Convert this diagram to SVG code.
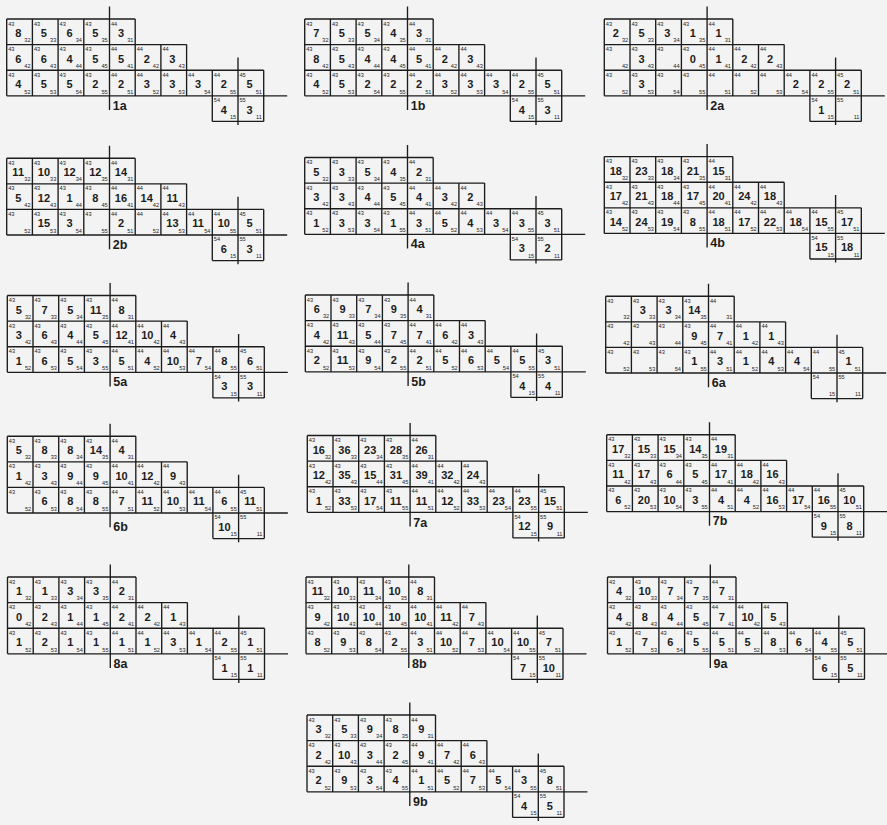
<svg xmlns="http://www.w3.org/2000/svg" width="887" height="825" viewBox="0 0 887 825">
<style>
text{font-family:"Liberation Sans",Arial,sans-serif;fill:#1c1c1c}
.s{font-size:5.6px}
.e{font-size:5.6px;text-anchor:end}
.m{font-size:11px;font-weight:bold;text-anchor:middle}
.l{font-size:12.5px;font-weight:bold}
.g{fill:none;stroke:#1c1c1c;stroke-width:1.35}
</style>
<defs>
<path id="grid" class="g" d="M0 0H128.5M0 25.6H179.9M0 51.2H257M0 76.8H280.5M205.6 102.4H257M0 0V76.8M25.7 0V76.8M51.4 0V76.8M77.1 0V76.8M102.8 -12.5V91M128.5 0V76.8M154.2 25.6V76.8M179.9 25.6V76.8M205.6 51.2V102.4M231.3 38.5V106M257 51.2V102.4"/>
<g id="idx">
<text class="s" y="6.5"><tspan x="1.5">43</tspan><tspan x="27.2">43</tspan><tspan x="52.9">43</tspan><tspan x="78.6">43</tspan><tspan x="104.3">44</tspan></text>
<text class="s" y="32.1"><tspan x="1.5">43</tspan><tspan x="27.2">43</tspan><tspan x="52.9">43</tspan><tspan x="78.6">43</tspan><tspan x="104.3">44</tspan><tspan x="130">44</tspan><tspan x="155.7">44</tspan></text>
<text class="s" y="57.7"><tspan x="1.5">43</tspan><tspan x="27.2">43</tspan><tspan x="52.9">43</tspan><tspan x="78.6">43</tspan><tspan x="104.3">44</tspan><tspan x="130">44</tspan><tspan x="155.7">44</tspan><tspan x="181.4">44</tspan><tspan x="207.1">44</tspan><tspan x="232.8">45</tspan></text>
<text class="s" y="83.3"><tspan x="207.1">54</tspan><tspan x="232.8">55</tspan></text>
<text class="e" y="23.3"><tspan x="23.9">32</tspan><tspan x="49.6">33</tspan><tspan x="75.3">34</tspan><tspan x="101">35</tspan><tspan x="126.7">31</tspan></text>
<text class="e" y="48.9"><tspan x="23.9">42</tspan><tspan x="49.6">43</tspan><tspan x="75.3">44</tspan><tspan x="101">45</tspan><tspan x="126.7">41</tspan><tspan x="152.4">42</tspan><tspan x="178.1">43</tspan></text>
<text class="e" y="74.5"><tspan x="23.9">52</tspan><tspan x="49.6">53</tspan><tspan x="75.3">54</tspan><tspan x="101">55</tspan><tspan x="126.7">51</tspan><tspan x="152.4">52</tspan><tspan x="178.1">53</tspan><tspan x="203.8">54</tspan><tspan x="229.5">55</tspan><tspan x="255.2">51</tspan></text>
<text class="e" y="100.1"><tspan x="229.5">15</tspan><tspan x="255.2">11</tspan></text>
</g>
</defs>
<rect width="887" height="825" fill="#f3f3f3"/>

<g id="p1a" transform="translate(6.7 19)"><use href="#grid"/><use href="#idx"/><text class="l" x="106" y="90.5">1a</text>
<text class="m" y="18"><tspan x="11.5">8</tspan><tspan x="37.2">5</tspan><tspan x="62.9">6</tspan><tspan x="88.6">5</tspan><tspan x="114.3">3</tspan></text>
<text class="m" y="43.6"><tspan x="11.5">6</tspan><tspan x="37.2">6</tspan><tspan x="62.9">4</tspan><tspan x="88.6">5</tspan><tspan x="114.3">5</tspan><tspan x="140">2</tspan><tspan x="165.7">3</tspan></text>
<text class="m" y="69.2"><tspan x="11.5">4</tspan><tspan x="37.2">5</tspan><tspan x="62.9">5</tspan><tspan x="88.6">2</tspan><tspan x="114.3">2</tspan><tspan x="140">3</tspan><tspan x="165.7">3</tspan><tspan x="191.4">3</tspan><tspan x="217.1">2</tspan><tspan x="242.8">5</tspan></text>
<text class="m" y="94.8"><tspan x="217.1">4</tspan><tspan x="242.8">3</tspan></text></g>

<g id="p1b" transform="translate(304.7 19)"><use href="#grid"/><use href="#idx"/><text class="l" x="106" y="90.5">1b</text>
<text class="m" y="18"><tspan x="11.5">7</tspan><tspan x="37.2">5</tspan><tspan x="62.9">5</tspan><tspan x="88.6">4</tspan><tspan x="114.3">3</tspan></text>
<text class="m" y="43.6"><tspan x="11.5">8</tspan><tspan x="37.2">5</tspan><tspan x="62.9">4</tspan><tspan x="88.6">4</tspan><tspan x="114.3">5</tspan><tspan x="140">2</tspan><tspan x="165.7">3</tspan></text>
<text class="m" y="69.2"><tspan x="11.5">4</tspan><tspan x="37.2">5</tspan><tspan x="62.9">2</tspan><tspan x="88.6">2</tspan><tspan x="114.3">2</tspan><tspan x="140">3</tspan><tspan x="165.7">3</tspan><tspan x="191.4">3</tspan><tspan x="217.1">2</tspan><tspan x="242.8">5</tspan></text>
<text class="m" y="94.8"><tspan x="217.1">4</tspan><tspan x="242.8">3</tspan></text></g>

<g id="p2a" transform="translate(604.3 19)"><use href="#grid"/><use href="#idx"/><text class="l" x="106" y="90.5">2a</text>
<text class="m" y="18"><tspan x="11.5">2</tspan><tspan x="37.2">5</tspan><tspan x="62.9">3</tspan><tspan x="88.6">1</tspan><tspan x="114.3">1</tspan></text>
<text class="m" y="43.6"><tspan x="37.2">3</tspan><tspan x="88.6">0</tspan><tspan x="114.3">1</tspan><tspan x="140">2</tspan><tspan x="165.7">2</tspan></text>
<text class="m" y="69.2"><tspan x="37.2">3</tspan><tspan x="191.4">2</tspan><tspan x="217.1">2</tspan><tspan x="242.8">2</tspan></text>
<text class="m" y="94.8"><tspan x="217.1">1</tspan></text></g>

<g id="p2b" transform="translate(6.7 158.2)"><use href="#grid"/><use href="#idx"/><text class="l" x="106" y="90.5">2b</text>
<text class="m" y="18"><tspan x="11.5">11</tspan><tspan x="37.2">10</tspan><tspan x="62.9">12</tspan><tspan x="88.6">12</tspan><tspan x="114.3">14</tspan></text>
<text class="m" y="43.6"><tspan x="11.5">5</tspan><tspan x="37.2">12</tspan><tspan x="62.9">1</tspan><tspan x="88.6">8</tspan><tspan x="114.3">16</tspan><tspan x="140">14</tspan><tspan x="165.7">11</tspan></text>
<text class="m" y="69.2"><tspan x="37.2">15</tspan><tspan x="62.9">3</tspan><tspan x="114.3">2</tspan><tspan x="165.7">13</tspan><tspan x="191.4">11</tspan><tspan x="217.1">10</tspan><tspan x="242.8">5</tspan></text>
<text class="m" y="94.8"><tspan x="217.1">6</tspan><tspan x="242.8">3</tspan></text></g>

<g id="p4a" transform="translate(304.7 157.5)"><use href="#grid"/><use href="#idx"/><text class="l" x="106" y="90.5">4a</text>
<text class="m" y="18"><tspan x="11.5">5</tspan><tspan x="37.2">3</tspan><tspan x="62.9">5</tspan><tspan x="88.6">4</tspan><tspan x="114.3">2</tspan></text>
<text class="m" y="43.6"><tspan x="11.5">3</tspan><tspan x="37.2">3</tspan><tspan x="62.9">4</tspan><tspan x="88.6">5</tspan><tspan x="114.3">4</tspan><tspan x="140">3</tspan><tspan x="165.7">2</tspan></text>
<text class="m" y="69.2"><tspan x="11.5">1</tspan><tspan x="37.2">3</tspan><tspan x="62.9">3</tspan><tspan x="88.6">1</tspan><tspan x="114.3">3</tspan><tspan x="140">5</tspan><tspan x="165.7">4</tspan><tspan x="191.4">3</tspan><tspan x="217.1">3</tspan><tspan x="242.8">3</tspan></text>
<text class="m" y="94.8"><tspan x="217.1">3</tspan><tspan x="242.8">2</tspan></text></g>

<g id="p4b" transform="translate(604.3 156.6)"><use href="#grid"/><use href="#idx"/><text class="l" x="106" y="90.5">4b</text>
<text class="m" y="18"><tspan x="11.5">18</tspan><tspan x="37.2">23</tspan><tspan x="62.9">18</tspan><tspan x="88.6">21</tspan><tspan x="114.3">15</tspan></text>
<text class="m" y="43.6"><tspan x="11.5">17</tspan><tspan x="37.2">21</tspan><tspan x="62.9">18</tspan><tspan x="88.6">17</tspan><tspan x="114.3">20</tspan><tspan x="140">24</tspan><tspan x="165.7">18</tspan></text>
<text class="m" y="69.2"><tspan x="11.5">14</tspan><tspan x="37.2">24</tspan><tspan x="62.9">19</tspan><tspan x="88.6">8</tspan><tspan x="114.3">18</tspan><tspan x="140">17</tspan><tspan x="165.7">22</tspan><tspan x="191.4">18</tspan><tspan x="217.1">15</tspan><tspan x="242.8">17</tspan></text>
<text class="m" y="94.8"><tspan x="217.1">15</tspan><tspan x="242.8">18</tspan></text></g>

<g id="p5a" transform="translate(7.3 295.5)"><use href="#grid"/><use href="#idx"/><text class="l" x="106" y="90.5">5a</text>
<text class="m" y="18"><tspan x="11.5">5</tspan><tspan x="37.2">7</tspan><tspan x="62.9">5</tspan><tspan x="88.6">11</tspan><tspan x="114.3">8</tspan></text>
<text class="m" y="43.6"><tspan x="11.5">3</tspan><tspan x="37.2">6</tspan><tspan x="62.9">4</tspan><tspan x="88.6">5</tspan><tspan x="114.3">12</tspan><tspan x="140">10</tspan><tspan x="165.7">4</tspan></text>
<text class="m" y="69.2"><tspan x="11.5">1</tspan><tspan x="37.2">6</tspan><tspan x="62.9">5</tspan><tspan x="88.6">3</tspan><tspan x="114.3">5</tspan><tspan x="140">4</tspan><tspan x="165.7">10</tspan><tspan x="191.4">7</tspan><tspan x="217.1">8</tspan><tspan x="242.8">6</tspan></text>
<text class="m" y="94.8"><tspan x="217.1">3</tspan><tspan x="242.8">3</tspan></text></g>

<g id="p5b" transform="translate(305.3 295)"><use href="#grid"/><use href="#idx"/><text class="l" x="106" y="90.5">5b</text>
<text class="m" y="18"><tspan x="11.5">6</tspan><tspan x="37.2">9</tspan><tspan x="62.9">7</tspan><tspan x="88.6">9</tspan><tspan x="114.3">4</tspan></text>
<text class="m" y="43.6"><tspan x="11.5">4</tspan><tspan x="37.2">11</tspan><tspan x="62.9">5</tspan><tspan x="88.6">7</tspan><tspan x="114.3">7</tspan><tspan x="140">6</tspan><tspan x="165.7">3</tspan></text>
<text class="m" y="69.2"><tspan x="11.5">2</tspan><tspan x="37.2">11</tspan><tspan x="62.9">9</tspan><tspan x="88.6">2</tspan><tspan x="114.3">2</tspan><tspan x="140">5</tspan><tspan x="165.7">6</tspan><tspan x="191.4">5</tspan><tspan x="217.1">5</tspan><tspan x="242.8">3</tspan></text>
<text class="m" y="94.8"><tspan x="217.1">4</tspan><tspan x="242.8">4</tspan></text></g>

<g id="p6a" transform="translate(605.7 296.2)"><use href="#grid"/><use href="#idx"/><text class="l" x="106" y="90.5">6a</text>
<text class="m" y="18"><tspan x="37.2">3</tspan><tspan x="62.9">3</tspan><tspan x="88.6">14</tspan></text>
<text class="m" y="43.6"><tspan x="88.6">9</tspan><tspan x="114.3">7</tspan><tspan x="140">1</tspan><tspan x="165.7">1</tspan></text>
<text class="m" y="69.2"><tspan x="88.6">1</tspan><tspan x="114.3">3</tspan><tspan x="140">1</tspan><tspan x="165.7">4</tspan><tspan x="191.4">4</tspan><tspan x="242.8">1</tspan></text></g>

<g id="p6b" transform="translate(7.3 436.2)"><use href="#grid"/><use href="#idx"/><text class="l" x="106" y="94.5">6b</text>
<text class="m" y="18"><tspan x="11.5">5</tspan><tspan x="37.2">8</tspan><tspan x="62.9">8</tspan><tspan x="88.6">14</tspan><tspan x="114.3">4</tspan></text>
<text class="m" y="43.6"><tspan x="11.5">1</tspan><tspan x="37.2">3</tspan><tspan x="62.9">9</tspan><tspan x="88.6">9</tspan><tspan x="114.3">10</tspan><tspan x="140">12</tspan><tspan x="165.7">9</tspan></text>
<text class="m" y="69.2"><tspan x="37.2">6</tspan><tspan x="62.9">8</tspan><tspan x="88.6">8</tspan><tspan x="114.3">7</tspan><tspan x="140">11</tspan><tspan x="165.7">10</tspan><tspan x="191.4">11</tspan><tspan x="217.1">6</tspan><tspan x="242.8">11</tspan></text>
<text class="m" y="94.8"><tspan x="217.1">10</tspan></text></g>

<g id="p7a" transform="translate(307.3 435.5)"><use href="#grid"/><use href="#idx"/><text class="l" x="106" y="91.5">7a</text>
<text class="m" y="18"><tspan x="11.5">16</tspan><tspan x="37.2">36</tspan><tspan x="62.9">23</tspan><tspan x="88.6">28</tspan><tspan x="114.3">26</tspan></text>
<text class="m" y="43.6"><tspan x="11.5">12</tspan><tspan x="37.2">35</tspan><tspan x="62.9">15</tspan><tspan x="88.6">31</tspan><tspan x="114.3">39</tspan><tspan x="140">32</tspan><tspan x="165.7">24</tspan></text>
<text class="m" y="69.2"><tspan x="11.5">1</tspan><tspan x="37.2">33</tspan><tspan x="62.9">17</tspan><tspan x="88.6">11</tspan><tspan x="114.3">11</tspan><tspan x="140">12</tspan><tspan x="165.7">33</tspan><tspan x="191.4">23</tspan><tspan x="217.1">23</tspan><tspan x="242.8">15</tspan></text>
<text class="m" y="94.8"><tspan x="217.1">12</tspan><tspan x="242.8">9</tspan></text></g>

<g id="p7b" transform="translate(606.7 434.8)"><use href="#grid"/><use href="#idx"/><text class="l" x="106" y="90.5">7b</text>
<text class="m" y="18"><tspan x="11.5">17</tspan><tspan x="37.2">15</tspan><tspan x="62.9">15</tspan><tspan x="88.6">14</tspan><tspan x="114.3">19</tspan></text>
<text class="m" y="43.6"><tspan x="11.5">11</tspan><tspan x="37.2">17</tspan><tspan x="62.9">6</tspan><tspan x="88.6">5</tspan><tspan x="114.3">17</tspan><tspan x="140">18</tspan><tspan x="165.7">16</tspan></text>
<text class="m" y="69.2"><tspan x="11.5">6</tspan><tspan x="37.2">20</tspan><tspan x="62.9">10</tspan><tspan x="88.6">3</tspan><tspan x="114.3">4</tspan><tspan x="140">4</tspan><tspan x="165.7">16</tspan><tspan x="191.4">17</tspan><tspan x="217.1">16</tspan><tspan x="242.8">10</tspan></text>
<text class="m" y="94.8"><tspan x="217.1">9</tspan><tspan x="242.8">8</tspan></text></g>

<g id="p8a" transform="translate(7.5 577)"><use href="#grid"/><use href="#idx"/><text class="l" x="106" y="90.5">8a</text>
<text class="m" y="18"><tspan x="11.5">1</tspan><tspan x="37.2">1</tspan><tspan x="62.9">3</tspan><tspan x="88.6">3</tspan><tspan x="114.3">2</tspan></text>
<text class="m" y="43.6"><tspan x="11.5">0</tspan><tspan x="37.2">2</tspan><tspan x="62.9">1</tspan><tspan x="88.6">1</tspan><tspan x="114.3">2</tspan><tspan x="140">2</tspan><tspan x="165.7">1</tspan></text>
<text class="m" y="69.2"><tspan x="11.5">1</tspan><tspan x="37.2">2</tspan><tspan x="62.9">1</tspan><tspan x="88.6">1</tspan><tspan x="114.3">1</tspan><tspan x="140">1</tspan><tspan x="165.7">3</tspan><tspan x="191.4">1</tspan><tspan x="217.1">2</tspan><tspan x="242.8">1</tspan></text>
<text class="m" y="94.8"><tspan x="217.1">1</tspan><tspan x="242.8">1</tspan></text></g>

<g id="p8b" transform="translate(306 577)"><use href="#grid"/><use href="#idx"/><text class="l" x="106" y="90.5">8b</text>
<text class="m" y="18"><tspan x="11.5">11</tspan><tspan x="37.2">10</tspan><tspan x="62.9">11</tspan><tspan x="88.6">10</tspan><tspan x="114.3">8</tspan></text>
<text class="m" y="43.6"><tspan x="11.5">9</tspan><tspan x="37.2">10</tspan><tspan x="62.9">10</tspan><tspan x="88.6">10</tspan><tspan x="114.3">10</tspan><tspan x="140">11</tspan><tspan x="165.7">7</tspan></text>
<text class="m" y="69.2"><tspan x="11.5">8</tspan><tspan x="37.2">9</tspan><tspan x="62.9">8</tspan><tspan x="88.6">2</tspan><tspan x="114.3">3</tspan><tspan x="140">10</tspan><tspan x="165.7">7</tspan><tspan x="191.4">10</tspan><tspan x="217.1">10</tspan><tspan x="242.8">7</tspan></text>
<text class="m" y="94.8"><tspan x="217.1">7</tspan><tspan x="242.8">10</tspan></text></g>

<g id="p9a" transform="translate(607.5 577)"><use href="#grid"/><use href="#idx"/><text class="l" x="106" y="90.5">9a</text>
<text class="m" y="18"><tspan x="11.5">4</tspan><tspan x="37.2">10</tspan><tspan x="62.9">7</tspan><tspan x="88.6">7</tspan><tspan x="114.3">7</tspan></text>
<text class="m" y="43.6"><tspan x="11.5">4</tspan><tspan x="37.2">8</tspan><tspan x="62.9">4</tspan><tspan x="88.6">5</tspan><tspan x="114.3">7</tspan><tspan x="140">10</tspan><tspan x="165.7">5</tspan></text>
<text class="m" y="69.2"><tspan x="11.5">1</tspan><tspan x="37.2">7</tspan><tspan x="62.9">6</tspan><tspan x="88.6">5</tspan><tspan x="114.3">5</tspan><tspan x="140">5</tspan><tspan x="165.7">8</tspan><tspan x="191.4">6</tspan><tspan x="217.1">4</tspan><tspan x="242.8">5</tspan></text>
<text class="m" y="94.8"><tspan x="217.1">6</tspan><tspan x="242.8">5</tspan></text></g>

<g id="p9b" transform="translate(307 715)"><use href="#grid"/><use href="#idx"/><text class="l" x="106" y="90.5">9b</text>
<text class="m" y="18"><tspan x="11.5">3</tspan><tspan x="37.2">5</tspan><tspan x="62.9">9</tspan><tspan x="88.6">8</tspan><tspan x="114.3">9</tspan></text>
<text class="m" y="43.6"><tspan x="11.5">2</tspan><tspan x="37.2">10</tspan><tspan x="62.9">3</tspan><tspan x="88.6">2</tspan><tspan x="114.3">9</tspan><tspan x="140">7</tspan><tspan x="165.7">6</tspan></text>
<text class="m" y="69.2"><tspan x="11.5">2</tspan><tspan x="37.2">9</tspan><tspan x="62.9">3</tspan><tspan x="88.6">4</tspan><tspan x="114.3">1</tspan><tspan x="140">5</tspan><tspan x="165.7">7</tspan><tspan x="191.4">5</tspan><tspan x="217.1">3</tspan><tspan x="242.8">8</tspan></text>
<text class="m" y="94.8"><tspan x="217.1">4</tspan><tspan x="242.8">5</tspan></text></g>
</svg>
